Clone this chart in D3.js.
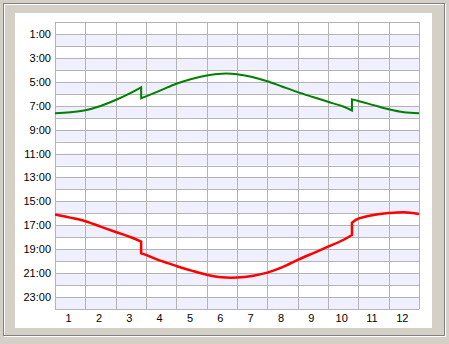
<!DOCTYPE html>
<html>
<head>
<meta charset="utf-8">
<script src="https://cdn.jsdelivr.net/npm/d3@7"></script>
<style>
  body { margin: 0; background: #d4d0c8; }
  svg { display: block; }
  .axis text { font-family: "Liberation Sans", Arial, sans-serif; font-size: 11px; fill: #000; }
</style>
</head>
<body>
<div id="chart"></div>
<script>
// month position (0..12) for each sample; DST switch repeats a position
const monthPos = [0, 0.5, 1, 1.5, 2, 2.5, 2.84, 2.84, 3, 3.5, 4, 4.5, 5, 5.5, 6, 6.5, 7, 7.5, 8, 8.5, 9, 9.5, 9.79, 9.79, 10, 10.5, 11, 11.5, 12];
// sunrise / sunset, hours of day
const sunrise = [7.63, 7.55, 7.38, 7.02, 6.52, 5.92, 5.46, 6.38, 6.22, 5.70, 5.16, 4.76, 4.47, 4.32, 4.36, 4.60, 4.95, 5.41, 5.86, 6.27, 6.67, 7.07, 7.40, 6.47, 6.60, 6.95, 7.30, 7.55, 7.63];
const sunset  = [16.10, 16.36, 16.66, 17.11, 17.56, 18.00, 18.37, 19.34, 19.48, 19.98, 20.40, 20.79, 21.13, 21.35, 21.37, 21.24, 20.96, 20.50, 19.90, 19.34, 18.79, 18.23, 17.81, 16.78, 16.45, 16.14, 15.98, 15.91, 16.06];
// indices where the DST jump starts a new segment
const dstBreaks = [7, 23];
const monthLabels = ['1', '2', '3', '4', '5', '6', '7', '8', '9', '10', '11', '12'];
const hourTicks = [1, 3, 5, 7, 9, 11, 13, 15, 17, 19, 21, 23];

const W = 449, H = 344;
const plot = { left: 55, top: 22, right: 419, bottom: 309 };

const svg = d3.select('#chart').append('svg')
    .attr('width', W)
    .attr('height', H);

// window frame
svg.append('rect').attr('width', W).attr('height', H).attr('fill', '#d4d0c8');
svg.append('rect').attr('x', 4.5).attr('y', 4.5).attr('width', 441).attr('height', 332)
    .attr('fill', 'none').attr('stroke', '#ffffff');
svg.append('rect').attr('x', 3.5).attr('y', 3.5).attr('width', 441).attr('height', 332)
    .attr('fill', 'none').attr('stroke', '#808080');
svg.append('rect').attr('x', 15).attr('y', 13).attr('width', 417).attr('height', 315)
    .attr('fill', '#ffffff');

const x = d3.scaleLinear().domain([0, 12]).range([plot.left, plot.right]);
const y = d3.scaleLinear().domain([0, 24]).range([plot.top, plot.bottom]);

// alternating hour bands
svg.append('g').selectAll('rect')
    .data(d3.range(1, 24, 2))
    .join('rect')
    .attr('x', plot.left)
    .attr('y', d => y(d))
    .attr('width', plot.right - plot.left)
    .attr('height', d => y(d + 1) - y(d))
    .attr('fill', '#efeffd');

// grid
const grid = svg.append('g').attr('stroke', '#b4b4b4').attr('shape-rendering', 'crispEdges');
grid.selectAll('.h').data(d3.range(0, 25)).join('line')
    .attr('x1', plot.left).attr('x2', plot.right)
    .attr('y1', d => Math.round(y(d)) + 0.5).attr('y2', d => Math.round(y(d)) + 0.5);
grid.selectAll('.v').data(d3.range(0, 13)).join('line')
    .attr('y1', plot.top).attr('y2', plot.bottom)
    .attr('x1', d => Math.round(x(d)) + 0.5).attr('x2', d => Math.round(x(d)) + 0.5);

// axes
const yAxis = svg.append('g')
    .attr('class', 'axis')
    .attr('transform', `translate(${plot.left - 4},0)`)
    .call(d3.axisLeft(y).tickValues(hourTicks).tickFormat(d => d + ':00').tickSize(0).tickPadding(0));
yAxis.select('.domain').remove();

const xAxis = svg.append('g')
    .attr('class', 'axis')
    .attr('transform', `translate(-2,${plot.bottom + 3})`)
    .call(d3.axisBottom(x).tickValues(d3.range(0.5, 12, 1)).tickFormat((d, i) => monthLabels[i]).tickSize(0).tickPadding(0));
xAxis.select('.domain').remove();
xAxis.selectAll('text').attr('dy', '0.9em');

// curves, split at the DST jumps and joined with straight steps
const line = d3.line()
    .x(d => x(d[0]))
    .y(d => y(d[1]))
    .curve(d3.curveCatmullRom.alpha(0.5));

function pathFor(values) {
    const pts = monthPos.map((m, i) => [m, values[i]]);
    const cuts = [0, ...dstBreaks, pts.length];
    let d = '';
    for (let k = 0; k < cuts.length - 1; k++) {
        const seg = line(pts.slice(cuts[k], cuts[k + 1]));
        d += k === 0 ? seg : 'L' + seg.slice(1);
    }
    return d;
}

svg.append('path')
    .attr('d', pathFor(sunrise))
    .attr('fill', 'none')
    .attr('stroke', '#008000')
    .attr('stroke-width', 2);

svg.append('path')
    .attr('d', pathFor(sunset))
    .attr('fill', 'none')
    .attr('stroke', '#ff0000')
    .attr('stroke-width', 2.5);
</script>
</body>
</html>
